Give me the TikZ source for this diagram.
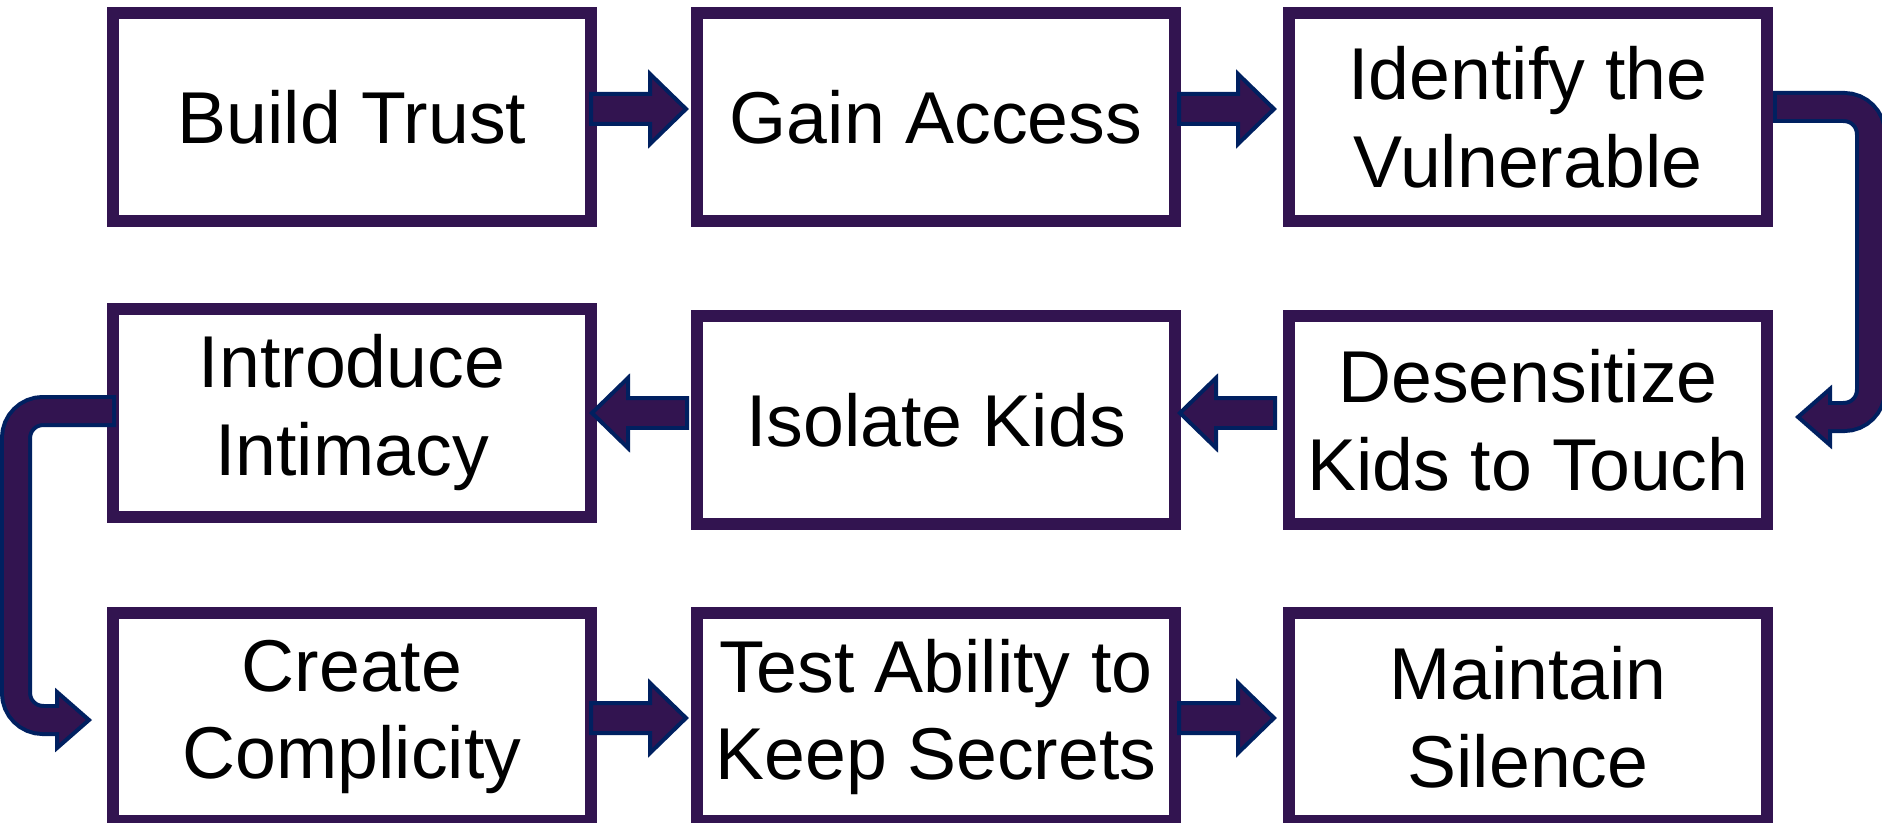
\documentclass[tikz,border=0pt]{standalone}
\usepackage{fontspec}
\setmainfont{Liberation Sans}
\usetikzlibrary{calc}

\definecolor{boxpurple}{RGB}{50,20,80}
\definecolor{arrownavy}{RGB}{0,32,96}

\tikzset{
  stage/.style={draw=boxpurple, line width=0.12cm, fill=white,
    minimum width=4.78cm, minimum height=2.08cm, inner sep=0pt,
    align=center, font=\fontsize{20.9}{25}\selectfont},
  arrowbody/.style={fill=boxpurple, draw=arrownavy, line width=0.04cm},
  shaftout/.style={draw=arrownavy, line width=0.32cm, rounded corners=0.27cm},
  shaftin/.style={draw=boxpurple, line width=0.24cm, rounded corners=0.27cm},
}

% block arrow in the gap between two neighbouring stages
\newcommand{\flowarrow}[3][0cm]{%
  \coordinate (fa-a) at ([yshift=#1]#2);
  \coordinate (fa-b) at (#3 |- fa-a);
  \coordinate (fa-m) at ($(fa-a)!0.5!(fa-b)+(-0.05,0)$);
  \coordinate (fa-s) at ($(fa-m)!0.48cm!(fa-a)$);
  \coordinate (fa-e) at ($(fa-m)!0.47cm!(fa-b)$);
  \coordinate (fa-h) at ($(fa-e)!0.36cm!(fa-s)$);
  \draw[arrowbody] ($(fa-s)!0.15cm!90:(fa-e)$) -- ($(fa-h)!0.15cm!90:(fa-e)$)
    -- ($(fa-h)!0.35cm!90:(fa-e)$) -- (fa-e) -- ($(fa-h)!0.35cm!-90:(fa-e)$)
    -- ($(fa-h)!0.15cm!-90:(fa-e)$) -- ($(fa-s)!0.15cm!-90:(fa-e)$) -- cycle;
}

\begin{document}
\begin{tikzpicture}
    \useasboundingbox (0,0) rectangle (18.82,-8.23);

    % stages, row by row
    \node[stage] (trust)      at (3.52,-1.17)  {Build Trust};
    \node[stage] (access)     at (9.36,-1.17)  {Gain Access};
    \node[stage] (ident)      at (15.28,-1.17) {Identify the\\Vulnerable};

    \node[stage] (intimacy)   at (3.52,-4.125) {Introduce\\Intimacy};
    \node[stage] (isolate)    at (9.36,-4.20)  {Isolate Kids};
    \node[stage] (desens)     at (15.28,-4.20) {Desensitize\\Kids to Touch};

    \node[stage] (complicity) at (3.52,-7.17)  {Create\\Complicity};
    \node[stage] (secrets)    at (9.36,-7.17)  {Test Ability to\\Keep Secrets};
    \node[stage] (silence)    at (15.28,-7.17) {Maintain\\Silence};

    % straight arrows
    \flowarrow[0.08cm]{trust.east}{access.west}
    \flowarrow[0.08cm]{access.east}{ident.west}
    \flowarrow[0.07cm]{desens.west}{isolate.east}
    \flowarrow[0.07cm]{isolate.west}{intimacy.east}
    \flowarrow[-0.01cm]{complicity.east}{secrets.west}
    \flowarrow[-0.01cm]{secrets.east}{silence.west}

    % bend on the right: row 1 down to row 2
    \coordinate (rb-s) at ([yshift=0.1cm]ident.east);
    \coordinate (rb-t) at ([xshift=0.25cm,yshift=0.03cm]desens.east);
    \coordinate (rb-h) at ([xshift=0.32cm]rb-t);
    \draw[shaftout] (rb-s) -- ++(0.98,0) |- (rb-h);
    \draw[arrowbody] (rb-t) -- ++(0.32,0.28) -- ++(0,-0.56) -- cycle;
    \draw[shaftin, shorten <=0.04cm, shorten >=-0.04cm] (rb-s) -- ++(0.98,0) |- (rb-h);

    % bend on the left: row 2 down to row 3
    \coordinate (lb-s) at ([xshift=0.09cm,yshift=0.015cm]intimacy.west);
    \coordinate (lb-t) at ([xshift=-0.18cm,yshift=-0.03cm]complicity.west);
    \coordinate (lb-h) at ([xshift=-0.32cm]lb-t);
    \draw[shaftout] (lb-s) -- ++(-1.00,0) |- (lb-h);
    \draw[arrowbody] (lb-t) -- ++(-0.32,0.28) -- ++(0,-0.56) -- cycle;
    \draw[shaftin, shorten <=0.04cm, shorten >=-0.04cm] (lb-s) -- ++(-1.00,0) |- (lb-h);
\end{tikzpicture}
\end{document}
